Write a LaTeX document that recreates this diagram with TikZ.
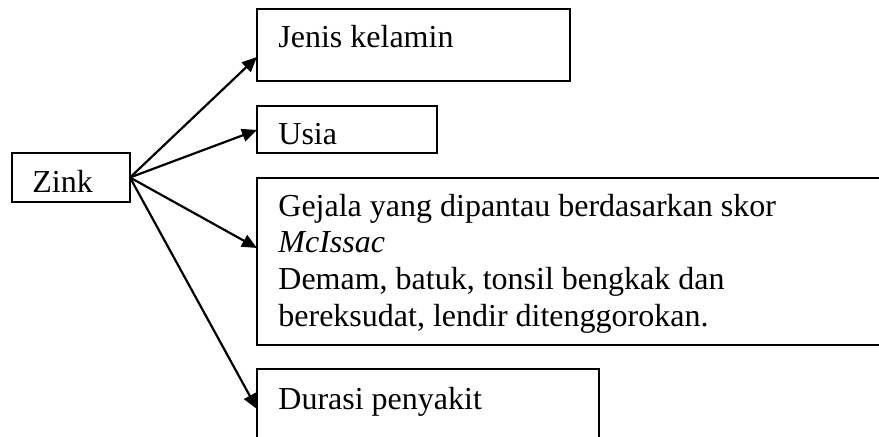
\documentclass[tikz,border=0pt]{standalone}
\usepackage{fontspec}
\setmainfont{Liberation Serif}
\usetikzlibrary{arrows.meta,fit}
\begin{document}
\begin{tikzpicture}[x=0.5pt,y=-0.5pt,
  box/.style={draw, line width=0.7pt, inner sep=0pt, outer sep=0pt},
  lbl/.style={anchor=base west, inner sep=0pt, font=\fontsize{16}{18.25}\selectfont},
  arr/.style={line width=1.1pt, -{Triangle[length=7.5pt,width=6.5pt]}}]
\useasboundingbox (0,0) rectangle (879,437);
\clip (0,0) rectangle (879,437);
\fill[white] (0,0) rectangle (879,437);
% boxes
\node[box, fit={(12,153) (130,202)}] (zink) {};
\node[box, fit={(257,9) (570,81)}] (jenis) {};
\node[box, fit={(257,106) (437,153)}] (usia) {};
\node[box, fit={(257,178) (880,345)}] (gejala) {};
\node[box, fit={(257,369) (599,450)}] (durasi) {};
% texts
\node[lbl] (tzink) at (32,193) {Zink};
\node[lbl] (tjenis) at (278,48) {Jenis kelamin};
\node[lbl] (tusia) at (278,145) {Usia};
\node[lbl] (tg1) at (278,217) {Gejala yang dipantau berdasarkan skor};
\node[lbl] (tg2) at (278,253) {\textit{McIssac}};
\node[lbl] (tg3) at (278,290) {Demam, batuk, tonsil bengkak dan};
\node[lbl] (tg4) at (278,327) {bereksudat, lendir ditenggorokan.};
\node[lbl] (tdurasi) at (278,410) {Durasi penyakit};
% arrow ends
\coordinate (ej) at (257,57);
\coordinate (eu) at (257,130);
\coordinate (eg) at (257,248);
\coordinate (ed) at (257,409);
\draw[arr] (zink.east) -- (ej);
\draw[arr] (zink.east) -- (eu);
\draw[arr] (zink.east) -- (eg);
\draw[arr] (zink.east) -- (ed);
\end{tikzpicture}
\end{document}
